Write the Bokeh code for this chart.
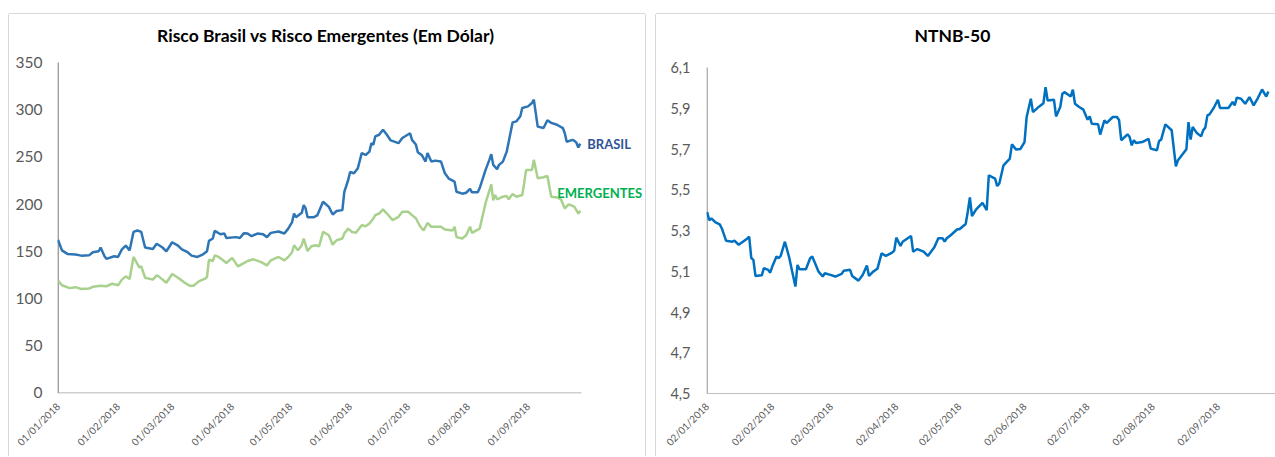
import pandas as pd
from bokeh.plotting import figure
from bokeh.models import (Range1d, FixedTicker, DatetimeTickFormatter,
                          CustomJSTickFormatter, Label, Spacer)
from bokeh.layouts import row, column
from bokeh.embed import file_html
from bokeh.resources import INLINE

# ---------------- data ----------------
# Left chart: days since 2018-01-01
brasil_days = [0, 2, 5, 9, 12, 16, 18, 21, 22, 24, 25, 29, 31, 33, 35, 37, 39, 41, 43, 45,
               49, 51, 54, 56, 59, 62, 64, 67, 69, 72, 75, 77, 78, 80, 81, 84, 86, 87, 92, 94,
               96, 98, 100, 103, 106, 108, 110, 114, 117, 119, 121, 122, 123, 126, 127, 128, 129, 132, 134, 137,
               140, 142, 144, 147, 148, 150, 151, 153, 155, 157, 159, 161, 162, 163, 164, 166, 168, 170, 172, 176,
               178, 182, 183, 185, 186, 188, 190, 191, 193, 195, 198, 200, 202, 205, 206, 209, 211, 213, 214, 217,
               218, 221, 223, 224, 225, 227, 228, 230, 232, 235, 237, 239, 240, 243, 245, 246, 248, 251, 253, 255,
               258, 261, 262, 263, 266, 267, 268, 269, 270]
brasil_vals = [162, 151, 147, 146.5, 145.4, 145.7, 149, 150, 154, 144.7, 142, 144.7, 144, 152, 156, 151, 170.5, 172, 170.5, 154,
               152.5, 158, 154, 150, 159.6, 156, 152, 149, 145.4, 144, 146.8, 150, 161, 163.5, 171.6, 168, 168.8, 164, 165, 164,
               169, 168.8, 166, 168.8, 168, 165, 169.5, 171, 168.8, 174, 181, 190, 186, 190.7, 199, 195.4, 186, 186, 188, 202.5,
               197, 189, 192.6, 193.6, 213, 225.5, 234, 232.6, 238, 254, 252, 255.6, 264.5, 262.8, 271.6, 273.4, 278.7, 273.4, 267.4, 264.5,
               270, 275, 268, 263, 255, 252, 245, 254, 245, 246, 245, 232.6, 227, 223.7, 213, 211, 212, 216, 212.4, 212.4,
               217, 236, 246.8, 252.8, 241.5, 237, 241.5, 245, 255.6, 286.5, 287.6, 293, 301.8, 303.5, 307, 310.6, 282, 280.5, 288.7, 286,
               284, 280.5, 275, 266, 268, 267, 265, 260, 264]

emerg_days = [0, 2, 6, 9, 12, 16, 18, 22, 25, 28, 31, 33, 35, 37, 39, 42, 43, 45, 49, 51,
              52, 56, 59, 62, 65, 68, 70, 73, 76, 77, 78, 80, 81, 83, 85, 87, 90, 93, 97, 98,
              101, 105, 108, 110, 114, 117, 119, 121, 122, 124, 126, 127, 129, 131, 133, 135, 137, 140, 142, 144,
              147, 148, 150, 152, 154, 157, 159, 161, 163, 164, 166, 168, 170, 173, 176, 178, 181, 183, 185, 187,
              189, 191, 193, 198, 200, 204, 205, 206, 209, 211, 213, 214, 218, 221, 224, 225, 226, 227, 230, 232,
              233, 235, 237, 240, 241, 242, 245, 246, 248, 251, 253, 255, 258, 260, 262, 264, 266, 267, 269, 270]
emerg_vals = [119, 114, 111, 112, 110, 110.6, 112.4, 113.5, 113, 115.6, 114, 120, 123.4, 120.6, 144, 133, 134, 122, 120, 124.5,
              123.4, 116.7, 126, 122, 117.4, 113.5, 113.5, 118.4, 121, 122.7, 141, 139.7, 145.7, 144, 141, 137.6, 143, 134, 138.6, 139.7,
              141.5, 138.6, 135, 140.4, 144, 140.4, 144, 149, 156.4, 151, 156.4, 163.5, 150.3, 155.3, 156.4, 155.3, 170.5, 167, 157, 161.7,
              163.5, 168.8, 174, 170.5, 169.5, 177.7, 176.6, 179.4, 184.7, 188.3, 190, 194.3, 190, 183, 186.5, 191.8, 191.8, 188.3, 185, 177,
              172, 180, 176, 176, 173, 172, 176, 165, 163.5, 167, 176, 169.5, 174, 200.7, 220.9, 204, 209.6, 205, 207.8, 208.5,
              205, 210.6, 207.8, 209.6, 222, 236, 236, 246.8, 227.3, 228.4, 229.8, 207.8, 207, 205, 195.4, 199.7, 198, 197, 190, 193]

# Right chart: days since 2018-01-02
ntnb_days = [0, 1, 2, 4, 6, 7, 9, 12, 13, 15, 17, 19, 20, 21, 22, 23, 26, 27, 29, 30,
             31, 33, 34, 35, 37, 39, 42, 43, 44, 47, 49, 50, 52, 53, 55, 56, 59, 61, 64, 65,
             68, 69, 72, 74, 76, 77, 79, 81, 83, 85, 88, 89, 90, 92, 93, 97, 98, 100, 103, 105,
             108, 110, 112, 113, 114, 116, 119, 120, 123, 124, 125, 126, 128, 131, 133, 134, 137, 138, 139, 141,
             144, 145, 147, 149, 151, 152, 154, 155, 158, 160, 161, 162, 165, 166, 168, 169, 170, 173, 174, 175,
             177, 179, 181, 182, 183, 186, 187, 189, 190, 193, 195, 196, 197, 200, 201, 202, 203, 204, 207, 210,
             211, 214, 215, 216, 218, 221, 223, 224, 228, 229, 230, 231, 233, 235, 236, 237, 238, 239, 241, 243,
             244, 248, 250, 251, 252, 254, 256, 258, 260, 262, 264, 266, 267]
ntnb_vals = [5.39, 5.35, 5.36, 5.34, 5.33, 5.31, 5.25, 5.245, 5.25, 5.23, 5.245, 5.26, 5.27, 5.165, 5.156, 5.077, 5.08, 5.115, 5.107, 5.093,
             5.123, 5.172, 5.164, 5.175, 5.245, 5.169, 5.025, 5.131, 5.11, 5.11, 5.164, 5.172, 5.123, 5.098, 5.074, 5.09, 5.081, 5.074, 5.087, 5.103,
             5.107, 5.077, 5.054, 5.082, 5.128, 5.077, 5.098, 5.112, 5.188, 5.175, 5.191, 5.201, 5.265, 5.224, 5.245, 5.273, 5.196, 5.209, 5.196, 5.175,
             5.216, 5.262, 5.262, 5.245, 5.262, 5.278, 5.306, 5.306, 5.332, 5.392, 5.462, 5.371, 5.404, 5.436, 5.40, 5.571, 5.555, 5.518, 5.531, 5.62,
             5.653, 5.723, 5.697, 5.70, 5.734, 5.857, 5.947, 5.881, 5.909, 5.925, 6.003, 5.938, 5.942, 5.86, 5.906, 5.971, 5.979, 5.958, 5.991, 5.922,
             5.906, 5.893, 5.844, 5.86, 5.824, 5.821, 5.771, 5.841, 5.827, 5.857, 5.857, 5.841, 5.743, 5.772, 5.759, 5.718, 5.743, 5.73, 5.734, 5.75,
             5.702, 5.694, 5.739, 5.746, 5.821, 5.792, 5.615, 5.645, 5.699, 5.832, 5.746, 5.808, 5.778, 5.762, 5.792, 5.805, 5.865, 5.87, 5.901, 5.942,
             5.901, 5.901, 5.931, 5.914, 5.952, 5.947, 5.922, 5.955, 5.914, 5.95, 5.992, 5.957, 5.982]

left_ticks = ["2018-01-01", "2018-02-01", "2018-03-01", "2018-04-01", "2018-05-01",
              "2018-06-01", "2018-07-01", "2018-08-01", "2018-09-01"]
right_ticks = ["2018-01-02", "2018-02-02", "2018-03-02", "2018-04-02", "2018-05-02",
               "2018-06-02", "2018-07-02", "2018-08-02", "2018-09-02"]
left_yticks = [0, 50, 100, 150, 200, 250, 300, 350]
right_yticks = [4.5, 4.7, 4.9, 5.1, 5.3, 5.5, 5.7, 5.9, 6.1]

left_title = "Risco Brasil vs Risco Emergentes (Em Dólar)"
right_title = "NTNB-50"

# ---------------- layout constants (pixels) ----------------
FONT = "Lato"
GREY = "#595959"
BORDER = "#D9D9D9"
TOP = 14            # canvas top (panel border just above)
H = 442             # canvas height
FRAME_BOTTOM = 63   # space below the plotting frame
W1, W2 = 636, 619
L1, L2 = 48, 50     # left borders (space for y labels)
PLOT_H1, PLOT_H2 = 331, 326   # pixel height of the value span on each chart
PXD1, PXD2 = 1.934, 2.102     # pixels per day on each chart
TITLE_ABOVE = 27    # title centre above the top tick, px (left)

start_l = pd.Timestamp("2018-01-01")
start_r = pd.Timestamp("2018-01-02")
frame_h = H - FRAME_BOTTOM


def to_dates(start, days):
    return [start + pd.Timedelta(days=d) for d in days]


def ms(s):
    return pd.Timestamp(s).value // 10**6


def date_fmt():
    f = "%d/%m/%Y"
    return DatetimeTickFormatter(days=f, months=f, years=f, hours=f, minutes=f,
                                 seconds=f, milliseconds=f, microseconds=f,
                                 minsec=f, hourmin=f)


def style(p, yticks, xticks, ysize, xsize):
    p.outline_line_color = None
    p.grid.visible = False
    p.background_fill_color = "white"
    p.border_fill_color = "white"
    for ax in p.yaxis:
        ax.ticker = FixedTicker(ticks=yticks)
        ax.axis_line_color = None
        ax.major_tick_line_color = None
        ax.minor_tick_line_color = None
        ax.major_label_text_font = FONT
        ax.major_label_text_font_size = ysize
        ax.major_label_text_color = GREY
        ax.major_label_standoff = 9
    for ax in p.xaxis:
        ax.ticker = FixedTicker(ticks=[ms(t) for t in xticks])
        ax.formatter = date_fmt()
        ax.major_tick_line_color = None
        ax.minor_tick_line_color = None
        ax.major_label_text_font = FONT
        ax.major_label_text_font_size = xsize
        ax.major_label_text_color = GREY
        ax.major_label_orientation = 0.785398
        ax.major_label_standoff = 5


def title_label(x, y, text):
    return Label(x=x, y=y, text=text, text_align="center", text_baseline="middle",
                 text_font=FONT, text_font_style="bold", text_font_size="17.5px",
                 text_color="#000000")


shadow_l = f"0 -1px 0 0 {BORDER}, -1px 0 0 0 {BORDER}, 1px 0 0 0 {BORDER}"
shadow_r = f"0 -1px 0 0 {BORDER}, -1px 0 0 0 {BORDER}"

# ---------------- left chart ----------------
y_top1 = left_yticks[-1] * frame_h / PLOT_H1
pad1 = 0.3
p1 = figure(width=W1, height=H, x_axis_type="datetime", output_backend="svg",
            toolbar_location=None,
            x_range=Range1d(start_l - pd.Timedelta(days=pad1),
                            start_l + pd.Timedelta(days=(W1 - L1) / PXD1 - pad1)),
            y_range=Range1d(-0.6, y_top1),
            min_border_left=L1, min_border_right=0, min_border_top=0,
            min_border_bottom=FRAME_BOTTOM,
            styles={"box-shadow": shadow_l})
style(p1, left_yticks, left_ticks, "15.5px", "10px")
p1.xaxis.axis_line_color = None

bx = to_dates(start_l, brasil_days)
ex = to_dates(start_l, emerg_days)
axis_end = bx[-1] + pd.Timedelta(days=0.6)
# axis lines (restricted to the axis span, as in the original)
p1.line([start_l, axis_end], [0, 0], line_color="#BFBFBF", line_width=1.5)
p1.line([start_l, start_l], [0, left_yticks[-1]], line_color="#8C8C8C", line_width=1.5)

p1.line(ex, emerg_vals, line_color="#A9D18E", line_width=2.5)
p1.line(bx, brasil_vals, line_color="#2E75B6", line_width=2.5)

p1.add_layout(Label(x=bx[-1], y=brasil_vals[-1], text="BRASIL", x_offset=7, y_offset=0,
                    text_baseline="middle", text_font=FONT, text_font_style="bold",
                    text_font_size="13px", text_color="#2F5597"))
p1.add_layout(Label(x=ex[-1], y=emerg_vals[-1], text="EMERGENTES", x_offset=-23, y_offset=18,
                    text_baseline="middle", text_font=FONT, text_font_style="bold",
                    text_font_size="13px", text_color="#00B050"))
p1.add_layout(title_label(start_l + pd.Timedelta(days=138.4),
                          left_yticks[-1] + TITLE_ABOVE * left_yticks[-1] / PLOT_H1,
                          left_title))

# ---------------- right chart ----------------
span2 = right_yticks[-1] - right_yticks[0]
y_top2 = right_yticks[0] + span2 * frame_h / PLOT_H2
p2 = figure(width=W2, height=H, x_axis_type="datetime", output_backend="svg",
            toolbar_location=None,
            x_range=Range1d(start_r - pd.Timedelta(days=pad1),
                            start_r + pd.Timedelta(days=(W2 - L2) / PXD2 - pad1)),
            y_range=Range1d(right_yticks[0], y_top2),
            min_border_left=L2, min_border_right=0, min_border_top=0,
            min_border_bottom=FRAME_BOTTOM,
            styles={"box-shadow": shadow_r})
style(p2, right_yticks, right_ticks, "14.5px", "10px")
p2.xaxis.axis_line_color = "#BFBFBF"
p2.yaxis.formatter = CustomJSTickFormatter(code="return tick.toFixed(1).replace('.', ',');")
p2.yaxis.major_label_standoff = 10
p2.line([start_r, start_r], [right_yticks[0], right_yticks[-1]],
        line_color="#A6A6A6", line_width=1.5)

nx = to_dates(start_r, ntnb_days)
p2.line(nx, ntnb_vals, line_color="#0070C0", line_width=2.5)
p2.add_layout(title_label(start_r + pd.Timedelta(days=116.7),
                          right_yticks[-1] + 32 * span2 / PLOT_H2, right_title))

layout = column(Spacer(height=TOP),
                row(Spacer(width=9), p1, Spacer(width=11), p2))

open("out.html", "w").write(file_html(layout, INLINE))
